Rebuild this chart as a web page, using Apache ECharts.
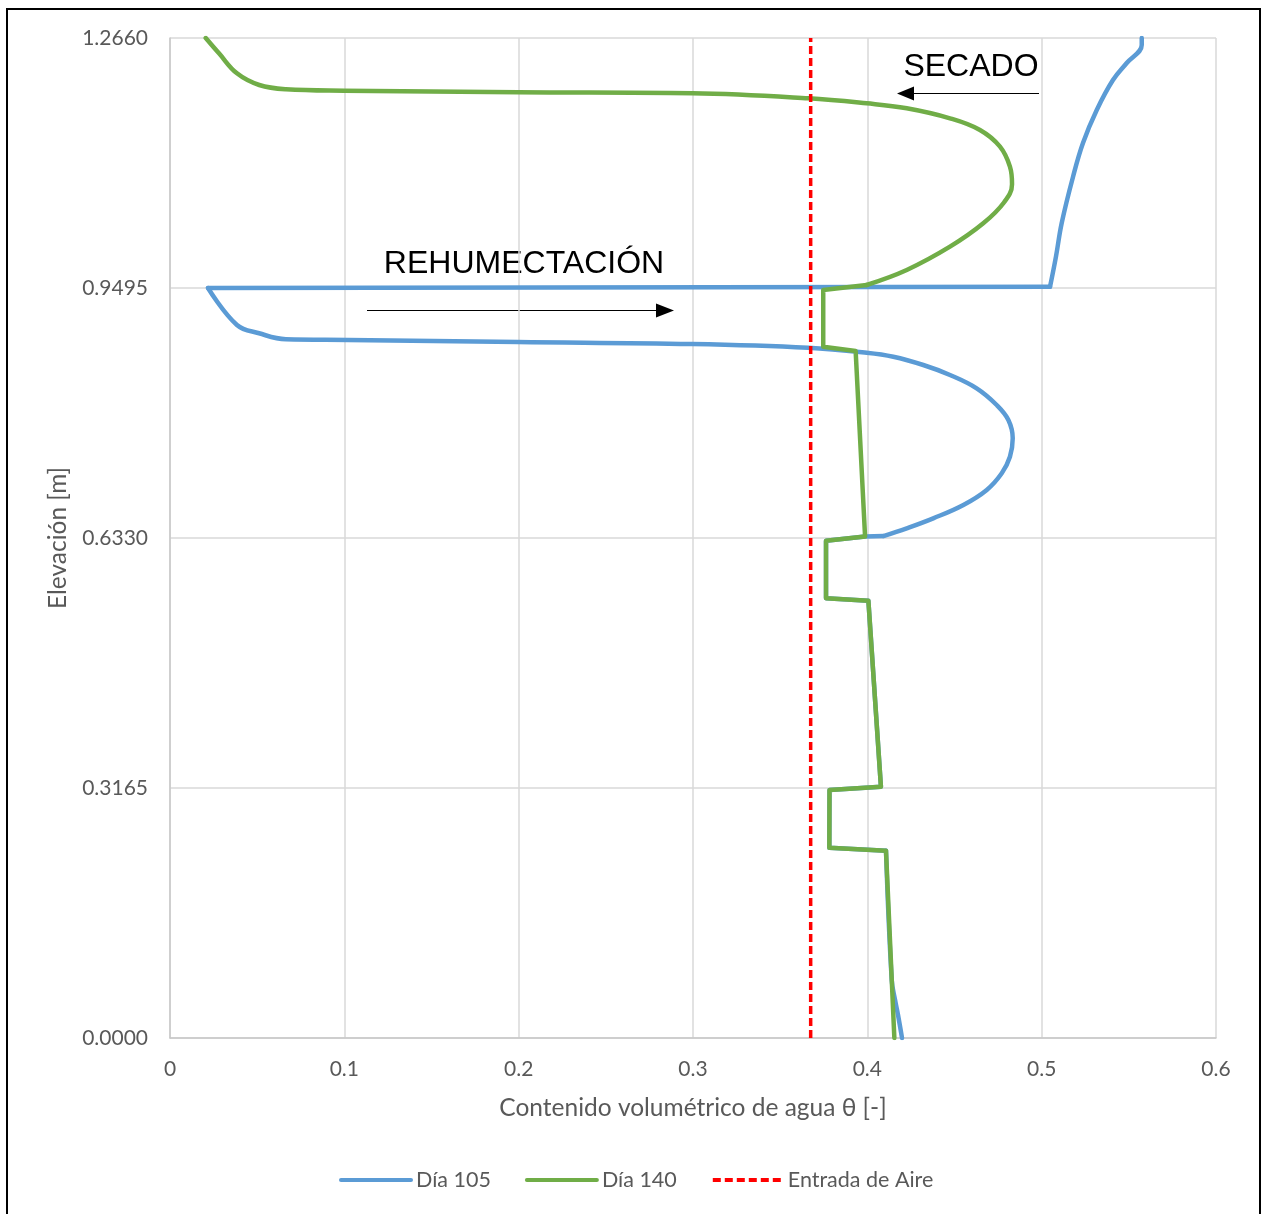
<!DOCTYPE html>
<html>
<head>
<meta charset="utf-8">
<script src="https://cdn.jsdelivr.net/npm/echarts@6/dist/echarts.min.js"></script>
<style>
  html, body { margin: 0; padding: 0; background: #fff; }
  #chart { width: 1262px; height: 1214px; }
</style>
</head>
<body>
<div id="chart"></div>
<script>
// ejes
var xTickLabels = ['0', '0.1', '0.2', '0.3', '0.4', '0.5', '0.6'];
var yTickLabels = ['0.0000', '0.3165', '0.6330', '0.9495', '1.2660'];
var xStep = 0.1, yStep = 0.3165;

// Día 105 (theta vs elevación, de abajo hacia arriba)
var dia105Theta = [0.4199, 0.4176, 0.4159, 0.4140, 0.4107, 0.3782, 0.3783, 0.4078, 0.4006, 0.3763, 0.3763, 0.3987,
  0.4092, 0.4226, 0.4378, 0.4551, 0.4685, 0.4771, 0.4818, 0.4834, 0.4809, 0.4742, 0.4627, 0.4474, 0.4321, 0.4149, 0.3996,
  0.3660, 0.2994, 0.1996, 0.1024, 0.0665, 0.0511, 0.0384, 0.0218,
  0.5048, 0.5082, 0.5115, 0.5180, 0.5237, 0.5316, 0.5409, 0.5488, 0.5574, 0.5574];
var dia105Elev = [0.0000, 0.0291, 0.0481, 0.0734, 0.2371, 0.2409, 0.3140, 0.3181, 0.5536, 0.5567, 0.6296, 0.6349,
  0.6355, 0.6453, 0.6579, 0.6748, 0.6938, 0.7149, 0.7359, 0.7592, 0.7824, 0.8014, 0.8225, 0.8394, 0.8520, 0.8625, 0.8676,
  0.8739, 0.8786, 0.8811, 0.8837, 0.8846, 0.8922, 0.9027, 0.9495,
  0.9511, 0.9892, 1.0318, 1.0904, 1.1331, 1.1749, 1.2128, 1.2344, 1.2571, 1.2660];
// tramos: [desde, hasta, suavizado]
var dia105Parts = [[0, 4, true], [4, 12, false], [12, 34, true], [34, 35, false], [35, 44, true]];

// Día 140
var dia140Theta = [0.4155, 0.4107, 0.3782, 0.3783, 0.4078, 0.4006, 0.3763, 0.3763, 0.3987, 0.3933, 0.3747, 0.3747, 0.3996,
  0.4226, 0.4474, 0.4665, 0.4786, 0.4830, 0.4818, 0.4761, 0.4646, 0.4474, 0.4226, 0.3996,
  0.3662, 0.2996, 0.1997, 0.0999, 0.0665, 0.0512, 0.0384, 0.0281, 0.0205];
var dia140Elev = [0.0000, 0.2371, 0.2409, 0.3140, 0.3181, 0.5536, 0.5567, 0.6296, 0.6349, 0.8697, 0.8752, 0.9470, 0.9533,
  0.9723, 1.0018, 1.0314, 1.0584, 1.0810, 1.1031, 1.1284, 1.1495, 1.1643, 1.1770, 1.1833,
  1.1897, 1.1960, 1.1973, 1.1993, 1.2011, 1.2065, 1.2213, 1.2466, 1.2660];
var dia140Parts = [[0, 12, false], [12, 32, true]];

// Entrada de aire
var airEntryTheta = 0.3675;
var airEntryElev = [0, 1.266];

var BLUE = '#5b9bd5', GREEN = '#70ad47', RED = '#ff0000';

function zip(xs, ys) {
    return xs.map(function (x, i) { return [x, ys[i]]; });
}

// una serie por tramo, todas con el mismo nombre (una sola entrada en la leyenda)
function buildSeries(name, color, xs, ys, parts) {
    var pts = zip(xs, ys);
    return parts.map(function (p) {
        return {
            name: name,
            type: 'line',
            symbol: 'none',
            smooth: p[2] ? 0.4 : false,
            data: pts.slice(p[0], p[1] + 1),
            lineStyle: { color: color, width: 4.5, cap: 'round', join: 'round' },
            itemStyle: { color: color },
            emphasis: { disabled: true }
        };
    });
}

var chart = echarts.init(document.getElementById('chart'));
var labelFont = 'Lato, "Open Sans", sans-serif';
var annFont = '32px "Liberation Sans", Arial, sans-serif';

var series = []
    .concat(buildSeries('Día 105', BLUE, dia105Theta, dia105Elev, dia105Parts))
    .concat(buildSeries('Día 140', GREEN, dia140Theta, dia140Elev, dia140Parts));
series.push({
    name: 'Entrada de Aire',
    type: 'line',
    symbol: 'none',
    data: airEntryElev.map(function (e) { return [airEntryTheta, e]; }),
    lineStyle: { color: RED, width: 3.5, type: [8, 4] },
    itemStyle: { color: RED },
    emphasis: { disabled: true }
});

var option = {
    backgroundColor: '#fff',
    animation: false,
    grid: { left: 170, right: 46, top: 38, bottom: 176 },
    xAxis: {
        type: 'value',
        min: 0,
        max: 0.6,
        interval: xStep,
        name: 'Contenido volumétrico de agua θ [-]',
        nameLocation: 'middle',
        nameGap: 58,
        nameTextStyle: { color: '#595959', fontSize: 24.5, fontFamily: labelFont },
        axisLine: { lineStyle: { color: '#c8c8c8', width: 1.5 } },
        axisTick: { show: false },
        axisLabel: {
            color: '#595959', fontSize: 21, fontFamily: labelFont, margin: 21,
            formatter: function (v) { return xTickLabels[Math.round(v / xStep)]; }
        },
        splitLine: { lineStyle: { color: '#d9d9d9', width: 1.5 } }
    },
    yAxis: {
        type: 'value',
        min: 0,
        max: 1.266,
        interval: yStep,
        name: 'Elevación [m]',
        nameLocation: 'middle',
        nameGap: 99,
        nameTextStyle: { color: '#595959', fontSize: 24.5, fontFamily: labelFont },
        axisLine: { show: true, lineStyle: { color: '#c8c8c8', width: 1.5 } },
        axisTick: { show: false },
        axisLabel: {
            color: '#595959', fontSize: 21, fontFamily: labelFont, margin: 22,
            formatter: function (v) { return yTickLabels[Math.round(v / yStep)]; }
        },
        splitLine: { lineStyle: { color: '#d9d9d9', width: 1.5 } }
    },
    legend: {
        top: 1164,
        left: 334,
        itemWidth: 70,
        itemHeight: 14,
        itemGap: 34,
        itemStyle: { opacity: 0 },
        lineStyle: { width: 4 },
        textStyle: { color: '#595959', fontSize: 21.5, fontFamily: labelFont },
        data: ['Día 105', 'Día 140', 'Entrada de Aire']
    },
    series: series,
    graphic: [
        // marco exterior
        { type: 'rect', shape: { x: 7, y: 9, width: 1253, height: 1230 },
          style: { fill: null, stroke: '#000', lineWidth: 2 }, silent: true },
        // SECADO
        { type: 'text', x: 971, y: 67,
          style: { text: 'SECADO', fill: '#000', font: annFont, textAlign: 'center', textVerticalAlign: 'middle' } },
        { type: 'line', shape: { x1: 1039, y1: 93.5, x2: 912, y2: 93.5 }, style: { stroke: '#000', lineWidth: 1 } },
        { type: 'polygon', shape: { points: [[897, 93.5], [914, 86.5], [914, 100.5]] }, style: { fill: '#000' } },
        // REHUMECTACIÓN
        { type: 'text', x: 524, y: 264,
          style: { text: 'REHUMECTACIÓN', fill: '#000', font: annFont, textAlign: 'center', textVerticalAlign: 'middle' } },
        { type: 'line', shape: { x1: 367, y1: 310.5, x2: 658, y2: 310.5 }, style: { stroke: '#000', lineWidth: 1 } },
        { type: 'polygon', shape: { points: [[674, 310.5], [656, 303.5], [656, 317.5]] }, style: { fill: '#000' } }
    ]
};

chart.setOption(option);
</script>
</body>
</html>
